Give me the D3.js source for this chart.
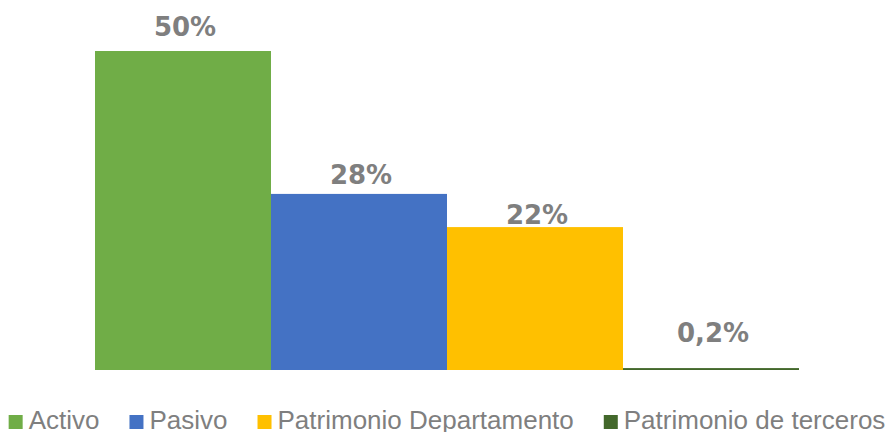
<!DOCTYPE html>
<html><head><meta charset="utf-8">
<script src="https://cdn.jsdelivr.net/npm/d3@7"></script>
<style>html,body{margin:0;padding:0;background:#fff;}svg{display:block;}</style>
</head><body>
<svg id="c" width="894" height="432"></svg>
<script>
const categories = ["Activo", "Pasivo", "Patrimonio Departamento", "Patrimonio de terceros"];
const values = [50, 27.6, 22.4, 0.3];
const valueLabels = ["50%", "28%", "22%", "0,2%"];
const colors = ["#70AD47", "#4472C4", "#FFC000", "#43682B"];
// extra lift of each data label above its bar (px), as placed in the original
const labelLift = [15, 10, 3, 26];

const svg = d3.select("#c");
const W = 894, H = 432;
const x = d3.scaleBand().domain(categories).range([95, 799]).padding(0);
const y = d3.scaleLinear().domain([0, 50]).range([370, 51]);

svg.selectAll("rect.bar").data(categories).join("rect")
  .attr("class", "bar")
  .attr("x", d => x(d))
  .attr("width", x.bandwidth())
  .attr("y", (d, i) => y(values[i]))
  .attr("height", (d, i) => y(0) - y(values[i]))
  .attr("fill", (d, i) => colors[i]);

svg.selectAll("text.lbl").data(categories).join("text")
  .attr("class", "lbl")
  .attr("x", d => x(d) + x.bandwidth() / 2 + 2)
  .attr("y", (d, i) => y(values[i]) - labelLift[i])
  .attr("text-anchor", "middle")
  .attr("font-family", "DejaVu Sans, sans-serif")
  .attr("font-weight", "bold")
  .attr("font-size", 26)
  .attr("fill", "#7F7F7F")
  .text((d, i) => valueLabels[i]);

// legend
const lg = svg.append("g");
const items = lg.selectAll("g").data(categories).join("g");
items.append("rect").attr("width", 14).attr("height", 14).attr("y", 415).attr("fill", (d, i) => colors[i]);
const texts = items.append("text").attr("x", 20).attr("y", 429)
  .attr("font-family", "Liberation Sans, Arial, sans-serif")
  .attr("font-size", 26).attr("fill", "#7F7F7F").text(d => d);
const gap = 30;
let widths = [];
texts.each(function () { widths.push(this.getComputedTextLength() + 20); });
const total = d3.sum(widths) + gap * (widths.length - 1);
let cx = W / 2 - total / 2;
items.each(function (d, i) {
  d3.select(this).attr("transform", `translate(${cx},0)`);
  cx += widths[i] + gap;
});
</script>
</body></html>
